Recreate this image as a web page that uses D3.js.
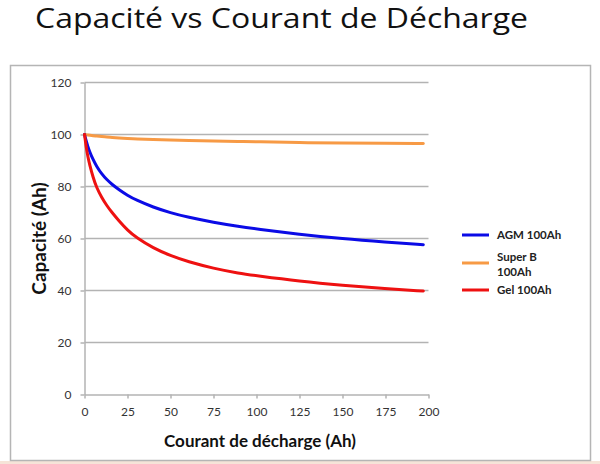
<!DOCTYPE html>
<html><head><meta charset="utf-8">
<script src="https://cdn.jsdelivr.net/npm/d3@7"></script>
<style>body{margin:0;background:#fff}svg{display:block}</style>
</head><body>
<svg id="c" width="600" height="464"></svg>
<script>
const current = [0,1,2,3,5,7,10,13,16,20,25,30,40,50,60,75,90,100,125,150,175,197];
const agm =    [100,97.5,95.3,93.4,90.3,87.8,84.8,82.6,80.8,78.8,76.6,74.8,72,69.9,68.2,66.2,64.6,63.7,61.6,59.9,58.6,57.6];
const superB = [100,99.9,99.8,99.7,99.5,99.4,99.2,99,98.9,98.7,98.5,98.3,98.1,97.9,97.7,97.5,97.3,97.2,96.9,96.7,96.6,96.5];
const gel =    [100,95,91.3,88.4,83.5,79.6,75.8,72.6,70,66.8,63.2,60.4,56.3,53.4,51.1,48.5,46.6,45.7,43.6,42,40.7,39.8];
const seriesNames = ["AGM 100Ah","Super B 100Ah","Gel 100Ah"];
const seriesColors = ["#0b0be6","#f79a45","#ee1111"];
const xTicks = [0,25,50,75,100,125,150,175,200];
const yTicks = [0,20,40,60,80,100,120];

const svg = d3.select("#c");
const font = "Lato, 'Open Sans', sans-serif";

svg.append("rect").attr("x",0).attr("y",461).attr("width",600).attr("height",3).attr("fill","#f6e4d8");
svg.append("rect").attr("x",10.5).attr("y",65.5).attr("width",580).attr("height",395)
  .attr("fill","#fff").attr("stroke","#b5b5b5").attr("stroke-width",1.5);

svg.append("text").attr("x",35).attr("y",28).attr("font-family","'Open Sans', sans-serif").attr("font-size",28)
  .attr("textLength",493).attr("lengthAdjust","spacingAndGlyphs")
  .attr("fill","#111").text("Capacité vs Courant de Décharge");

const x = d3.scaleLinear().domain([0,200]).range([84.5,428.5]);
const y = d3.scaleLinear().domain([0,120]).range([394.5,82.5]);

const grid = svg.append("g");
grid.selectAll("line").data(yTicks.filter(d=>d>0)).join("line")
  .attr("x1",x(0)).attr("x2",x(200)).attr("y1",d=>y(d)).attr("y2",d=>y(d))
  .attr("stroke","#b3b3b3").attr("stroke-width",1.5);

const yAxis = svg.append("g").attr("transform",`translate(${x(0)},0)`)
  .call(d3.axisLeft(y).tickValues(yTicks).tickSize(4).tickPadding(9).tickSizeOuter(0));
const xAxis = svg.append("g").attr("transform",`translate(0,${y(0)})`)
  .call(d3.axisBottom(x).tickValues(xTicks).tickSize(4).tickPadding(9).tickSizeOuter(0));
[yAxis,xAxis].forEach(a=>{
  a.select(".domain").attr("stroke","#b3b3b3").attr("stroke-width",1.5);
  a.selectAll(".tick line").attr("stroke","#b3b3b3").attr("stroke-width",1.5);
  a.selectAll("text").attr("font-family",font).attr("font-size",12).attr("fill","#333");
});

const allSeries = [agm, superB, gel];
const line = d3.line().x((d,i)=>x(current[i])).y(d=>y(d)).curve(d3.curveBasis);
[1,0,2].forEach(k=>{
  svg.append("path").datum(allSeries[k]).attr("d",line).attr("fill","none")
    .attr("stroke",seriesColors[k]).attr("stroke-width",3).attr("stroke-linecap","round");
});

svg.append("text").attr("transform",`translate(46,${y(60)}) rotate(-90)`).attr("text-anchor","middle")
  .attr("font-family",font).attr("font-weight","bold").attr("font-size",19).attr("fill","#111")
  .text("Capacité (Ah)");
svg.append("text").attr("x",260).attr("y",447).attr("text-anchor","middle")
  .attr("font-family",font).attr("font-weight","bold").attr("font-size",17).attr("fill","#111")
  .text("Courant de décharge (Ah)");

const legY = [235,263,290];
const leg = svg.append("g");
seriesNames.forEach((n,i)=>{
  leg.append("line").attr("x1",462).attr("x2",489).attr("y1",legY[i]).attr("y2",legY[i])
    .attr("stroke",seriesColors[i]).attr("stroke-width",3);
  const t = leg.append("text").attr("x",497).attr("font-family",font).attr("font-weight","bold")
    .attr("font-size",11.5).attr("fill","#222");
  if(i===1){
    t.append("tspan").attr("x",497).attr("y",legY[i]-2).text("Super B");
    t.append("tspan").attr("x",497).attr("y",legY[i]+13).text("100Ah");
  } else {
    t.attr("y",legY[i]+4).text(n);
  }
});
</script>
</body></html>
